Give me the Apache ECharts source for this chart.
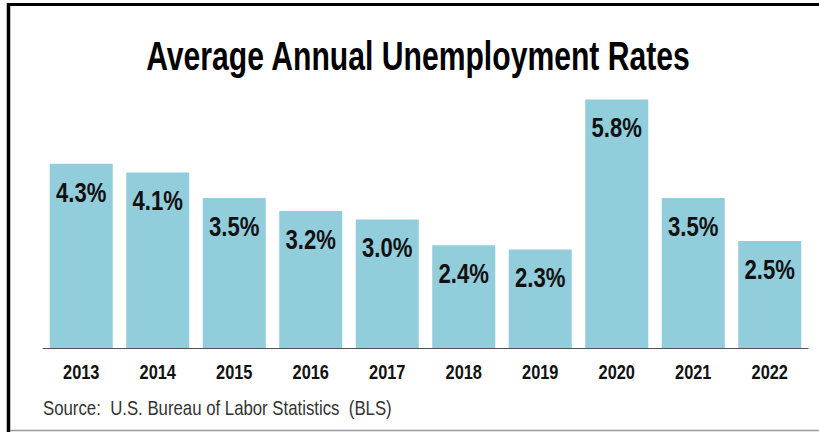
<!DOCTYPE html>
<html>
<head>
<meta charset="utf-8">
<script src="https://cdn.jsdelivr.net/npm/echarts@6/dist/echarts.min.js"></script>
<style>
html,body{margin:0;padding:0;background:#fff;overflow:hidden;}
#wrap{width:819px;height:432px;overflow:hidden;position:relative;}
#c{height:432px;transform-origin:0 0;position:absolute;left:0;top:0;}
</style>
</head>
<body>
<div id="wrap"><div id="c"></div></div>
<script>
const years = ['2013','2014','2015','2016','2017','2018','2019','2020','2021','2022'];
const rates = [4.3, 4.1, 3.5, 3.2, 3.0, 2.4, 2.3, 5.8, 3.5, 2.5];
const titleText = 'Average Annual Unemployment Rates';
const sourceText = 'Source:  U.S. Bureau of Labor Statistics  (BLS)';

// Narrow look: render the chart wider and condense it horizontally (like Arial Narrow)
const S = 0.819;
const W = 819 / S;
const el = document.getElementById('c');
el.style.width = W + 'px';
el.style.transform = 'scaleX(' + S + ')';
const X = v => v / S;

const FONT = '"Liberation Sans", Arial, sans-serif';
const chart = echarts.init(el, null, {renderer: 'svg'});
chart.setOption({
  animation: false,
  backgroundColor: '#fff',
  grid: {left: X(43), right: X(11), top: 91, bottom: 84},
  xAxis: {
    type: 'category',
    data: years,
    axisTick: {show: false},
    axisLine: {lineStyle: {color: '#404040', width: 1}},
    axisLabel: {
      margin: 14,
      color: '#111',
      fontFamily: FONT,
      fontWeight: 'bold',
      fontSize: 20
    }
  },
  yAxis: {
    type: 'value', min: 0, max: 6, show: false, splitLine: {show: false}
  },
  series: [{
    type: 'bar',
    data: rates,
    barCategoryGap: '17.6%',
    itemStyle: {color: '#92CDDC'},
    label: {
      show: true,
      position: 'insideTop',
      distance: 15,
      formatter: p => p.value.toFixed(1) + '%',
      fontFamily: FONT,
      fontWeight: 'bold',
      fontSize: 27,
      lineHeight: 27,
      color: '#111'
    }
  }],
  graphic: [
    {type: 'text', x: X(418), y: 56, scaleX: 0.92, style: {
      text: titleText, textAlign: 'center', textVerticalAlign: 'middle',
      font: 'bold 40px ' + FONT, fill: '#000'
    }},
    {type: 'text', x: X(43), y: 408, style: {
      text: sourceText, textAlign: 'left', textVerticalAlign: 'middle',
      font: '20.5px ' + FONT, fill: '#333'
    }},
    {type: 'line', shape: {x1: X(8.5), y1: 3, x2: X(8.5), y2: 432}, style: {stroke: '#000', lineWidth: X(3.5)}},
    {type: 'line', shape: {x1: X(7), y1: 4.5, x2: W, y2: 4.5}, style: {stroke: '#000', lineWidth: 3}},
    {type: 'line', shape: {x1: X(10), y1: 430.5, x2: W, y2: 430.5}, style: {stroke: '#999', lineWidth: 1.5}}
  ]
});
</script>
</body>
</html>
